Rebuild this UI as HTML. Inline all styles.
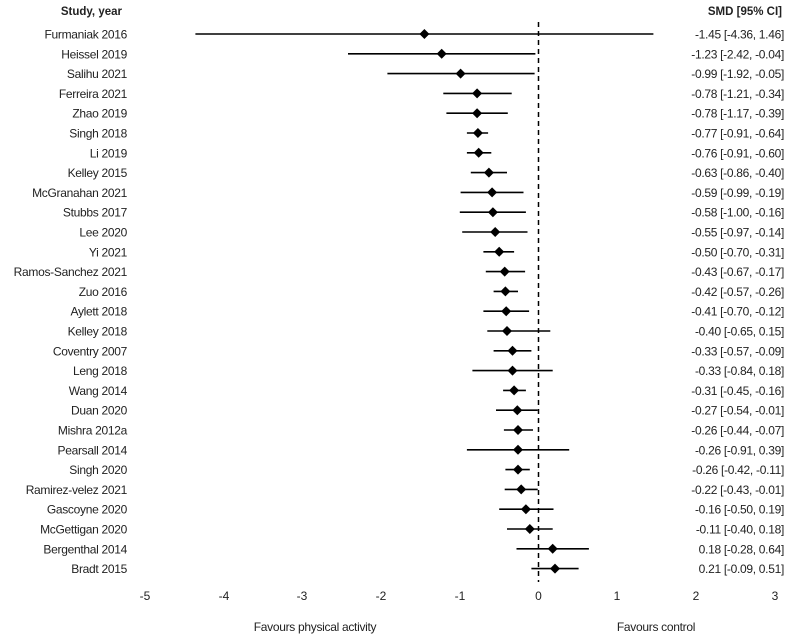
<!DOCTYPE html>
<html><head><meta charset="utf-8"><style>
html,body{margin:0;padding:0;background:#fff}
svg{display:block;font-family:"Liberation Sans",Arial,sans-serif;font-size:12px;fill:#222}
.n{letter-spacing:-0.3px}
</style></head><body>
<svg width="795" height="636" viewBox="0 0 795 636" xmlns="http://www.w3.org/2000/svg">
<text x="122" y="15" text-anchor="end" font-weight="bold" font-size="11.5px">Study, year</text>
<text x="782" y="15" text-anchor="end" font-weight="bold" font-size="11.5px">SMD [95% CI]</text>
<line x1="538.5" y1="22" x2="538.5" y2="582" stroke="#000" stroke-width="1.5" stroke-dasharray="5,4"/>
<g stroke="#000" stroke-width="1.6">
<line x1="195.4" y1="34" x2="653.4" y2="34"/>
<line x1="348.0" y1="53.8" x2="535.4" y2="53.8"/>
<line x1="387.4" y1="73.6" x2="534.6" y2="73.6"/>
<line x1="443.3" y1="93.4" x2="511.7" y2="93.4"/>
<line x1="446.4" y1="113.2" x2="507.8" y2="113.2"/>
<line x1="466.9" y1="133" x2="488.1" y2="133"/>
<line x1="466.9" y1="152.8" x2="491.3" y2="152.8"/>
<line x1="470.8" y1="172.6" x2="507.0" y2="172.6"/>
<line x1="460.6" y1="192.4" x2="523.5" y2="192.4"/>
<line x1="459.8" y1="212.2" x2="525.9" y2="212.2"/>
<line x1="462.2" y1="232" x2="527.5" y2="232"/>
<line x1="483.4" y1="251.8" x2="514.1" y2="251.8"/>
<line x1="485.8" y1="271.6" x2="525.1" y2="271.6"/>
<line x1="493.6" y1="291.4" x2="518.0" y2="291.4"/>
<line x1="483.4" y1="311.2" x2="529.1" y2="311.2"/>
<line x1="487.3" y1="331" x2="550.3" y2="331"/>
<line x1="493.6" y1="350.8" x2="531.4" y2="350.8"/>
<line x1="472.4" y1="370.6" x2="552.7" y2="370.6"/>
<line x1="503.1" y1="390.4" x2="525.9" y2="390.4"/>
<line x1="496.0" y1="410.2" x2="537.7" y2="410.2"/>
<line x1="503.9" y1="430" x2="533.0" y2="430"/>
<line x1="466.9" y1="449.8" x2="569.2" y2="449.8"/>
<line x1="505.4" y1="469.6" x2="529.8" y2="469.6"/>
<line x1="504.7" y1="489.4" x2="537.7" y2="489.4"/>
<line x1="499.2" y1="509.2" x2="553.5" y2="509.2"/>
<line x1="507.0" y1="529" x2="552.7" y2="529"/>
<line x1="516.5" y1="548.8" x2="588.9" y2="548.8"/>
<line x1="531.4" y1="568.6" x2="578.6" y2="568.6"/>
</g>
<g fill="#000">
<path d="M424.4 29l5 5-5 5-5-5z"/>
<path d="M441.7 48.8l5 5-5 5-5-5z"/>
<path d="M460.6 68.6l5 5-5 5-5-5z"/>
<path d="M477.1 88.4l5 5-5 5-5-5z"/>
<path d="M477.1 108.2l5 5-5 5-5-5z"/>
<path d="M477.9 128l5 5-5 5-5-5z"/>
<path d="M478.7 147.8l5 5-5 5-5-5z"/>
<path d="M488.9 167.6l5 5-5 5-5-5z"/>
<path d="M492.1 187.4l5 5-5 5-5-5z"/>
<path d="M492.9 207.2l5 5-5 5-5-5z"/>
<path d="M495.2 227l5 5-5 5-5-5z"/>
<path d="M499.2 246.8l5 5-5 5-5-5z"/>
<path d="M504.7 266.6l5 5-5 5-5-5z"/>
<path d="M505.4 286.4l5 5-5 5-5-5z"/>
<path d="M506.2 306.2l5 5-5 5-5-5z"/>
<path d="M507.0 326l5 5-5 5-5-5z"/>
<path d="M512.5 345.8l5 5-5 5-5-5z"/>
<path d="M512.5 365.6l5 5-5 5-5-5z"/>
<path d="M514.1 385.4l5 5-5 5-5-5z"/>
<path d="M517.3 405.2l5 5-5 5-5-5z"/>
<path d="M518.0 425l5 5-5 5-5-5z"/>
<path d="M518.0 444.8l5 5-5 5-5-5z"/>
<path d="M518.0 464.6l5 5-5 5-5-5z"/>
<path d="M521.2 484.4l5 5-5 5-5-5z"/>
<path d="M525.9 504.2l5 5-5 5-5-5z"/>
<path d="M529.8 524l5 5-5 5-5-5z"/>
<path d="M552.7 543.8l5 5-5 5-5-5z"/>
<path d="M555.0 563.6l5 5-5 5-5-5z"/>
</g>
<g text-anchor="end" class="n">
<text x="127" y="38.5">Furmaniak 2016</text>
<text x="127" y="58.3">Heissel 2019</text>
<text x="127" y="78.1">Salihu 2021</text>
<text x="127" y="97.9">Ferreira 2021</text>
<text x="127" y="117.7">Zhao 2019</text>
<text x="127" y="137.5">Singh 2018</text>
<text x="127" y="157.3">Li 2019</text>
<text x="127" y="177.1">Kelley 2015</text>
<text x="127" y="196.9">McGranahan 2021</text>
<text x="127" y="216.7">Stubbs 2017</text>
<text x="127" y="236.5">Lee 2020</text>
<text x="127" y="256.3">Yi 2021</text>
<text x="127" y="276.1">Ramos-Sanchez 2021</text>
<text x="127" y="295.9">Zuo 2016</text>
<text x="127" y="315.7">Aylett 2018</text>
<text x="127" y="335.5">Kelley 2018</text>
<text x="127" y="355.3">Coventry 2007</text>
<text x="127" y="375.1">Leng 2018</text>
<text x="127" y="394.9">Wang 2014</text>
<text x="127" y="414.7">Duan 2020</text>
<text x="127" y="434.5">Mishra 2012a</text>
<text x="127" y="454.3">Pearsall 2014</text>
<text x="127" y="474.1">Singh 2020</text>
<text x="127" y="493.9">Ramirez-velez 2021</text>
<text x="127" y="513.7">Gascoyne 2020</text>
<text x="127" y="533.5">McGettigan 2020</text>
<text x="127" y="553.3">Bergenthal 2014</text>
<text x="127" y="573.1">Bradt 2015</text>
</g>
<g text-anchor="end" class="n">
<text x="784" y="38.5">-1.45 [-4.36, 1.46]</text>
<text x="784" y="58.3">-1.23 [-2.42, -0.04]</text>
<text x="784" y="78.1">-0.99 [-1.92, -0.05]</text>
<text x="784" y="97.9">-0.78 [-1.21, -0.34]</text>
<text x="784" y="117.7">-0.78 [-1.17, -0.39]</text>
<text x="784" y="137.5">-0.77 [-0.91, -0.64]</text>
<text x="784" y="157.3">-0.76 [-0.91, -0.60]</text>
<text x="784" y="177.1">-0.63 [-0.86, -0.40]</text>
<text x="784" y="196.9">-0.59 [-0.99, -0.19]</text>
<text x="784" y="216.7">-0.58 [-1.00, -0.16]</text>
<text x="784" y="236.5">-0.55 [-0.97, -0.14]</text>
<text x="784" y="256.3">-0.50 [-0.70, -0.31]</text>
<text x="784" y="276.1">-0.43 [-0.67, -0.17]</text>
<text x="784" y="295.9">-0.42 [-0.57, -0.26]</text>
<text x="784" y="315.7">-0.41 [-0.70, -0.12]</text>
<text x="784" y="335.5">-0.40 [-0.65, 0.15]</text>
<text x="784" y="355.3">-0.33 [-0.57, -0.09]</text>
<text x="784" y="375.1">-0.33 [-0.84, 0.18]</text>
<text x="784" y="394.9">-0.31 [-0.45, -0.16]</text>
<text x="784" y="414.7">-0.27 [-0.54, -0.01]</text>
<text x="784" y="434.5">-0.26 [-0.44, -0.07]</text>
<text x="784" y="454.3">-0.26 [-0.91, 0.39]</text>
<text x="784" y="474.1">-0.26 [-0.42, -0.11]</text>
<text x="784" y="493.9">-0.22 [-0.43, -0.01]</text>
<text x="784" y="513.7">-0.16 [-0.50, 0.19]</text>
<text x="784" y="533.5">-0.11 [-0.40, 0.18]</text>
<text x="784" y="553.3">0.18 [-0.28, 0.64]</text>
<text x="784" y="573.1">0.21 [-0.09, 0.51]</text>
</g>
<g text-anchor="middle">
<text x="145" y="600">-5</text>
<text x="224" y="600">-4</text>
<text x="302" y="600">-3</text>
<text x="381" y="600">-2</text>
<text x="460" y="600">-1</text>
<text x="538.5" y="600">0</text>
<text x="617" y="600">1</text>
<text x="696" y="600">2</text>
<text x="775" y="600">3</text>
<text x="315" y="631" class="n">Favours physical activity</text>
<text x="656" y="631" class="n">Favours control</text>
</g>
</svg>
</body></html>
